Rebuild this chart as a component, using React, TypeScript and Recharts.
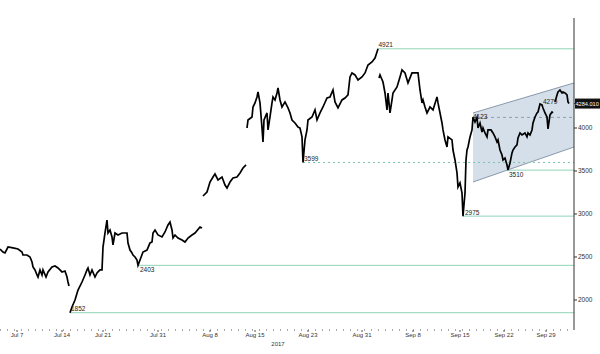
import React from 'react';
import { ComposedChart, Line, Area, XAxis, YAxis, ReferenceLine, ReferenceDot } from 'recharts';

// time index (chart sessions) and BTC price, split where the feed has gaps
const julyA: [number, number][] = [
  [0, 2593], [3, 2558], [5, 2547], [8, 2616], [13, 2605], [18, 2593], [22, 2558], [23, 2523], [27, 2523],
  [30, 2500], [32, 2442], [33, 2384], [35, 2349], [37, 2291], [38, 2267], [40, 2349], [42, 2291], [43, 2349],
  [46, 2267], [48, 2326], [52, 2384], [55, 2395], [58, 2372], [62, 2326], [65, 2337], [67, 2267], [68, 2209], [69, 2163],
];
const julyB: [number, number][] = [
  [70, 1852], [72, 1919], [75, 2000], [78, 2116], [82, 2209], [85, 2291], [87, 2349], [88, 2372], [90, 2291],
  [92, 2349], [95, 2267], [97, 2314], [98, 2326], [100, 2349], [102, 2349], [103, 2616], [105, 2779], [107, 2930],
  [108, 2779], [110, 2814], [112, 2733], [113, 2640], [115, 2779], [118, 2756], [122, 2779], [125, 2779], [127, 2779],
  [128, 2663], [130, 2581], [132, 2547], [133, 2523], [135, 2500], [137, 2465], [138, 2403], [140, 2465], [143, 2558],
  [147, 2581], [150, 2663], [152, 2674], [153, 2779], [155, 2814], [158, 2756], [162, 2733], [165, 2791], [168, 2872],
  [170, 2907], [172, 2814], [173, 2721], [175, 2756], [178, 2721], [182, 2698], [185, 2674], [188, 2721], [192, 2756],
  [195, 2779], [200, 2849], [202, 2837],
];
const augA: [number, number][] = [
  [203, 3209], [207, 3256], [210, 3372], [213, 3430], [215, 3465], [218, 3396], [222, 3430], [225, 3337], [227, 3302],
  [230, 3372], [233, 3419], [237, 3430], [240, 3477], [243, 3535], [246, 3570],
];
const augB: [number, number][] = [
  [247, 4000], [248, 4093], [252, 4128], [253, 4244], [255, 4291], [257, 4361], [258, 4419], [260, 4291], [262, 4000],
  [263, 3837], [264, 4093], [267, 4175], [268, 3977], [270, 4128], [272, 4291], [273, 4361], [275, 4326], [277, 4407],
  [278, 4465], [280, 4326], [282, 4244], [285, 4303], [288, 4233], [290, 4175], [292, 4093], [295, 4058], [298, 4012],
  [300, 4000], [302, 3896], [303, 3599], [305, 3861], [307, 3977], [308, 4093], [312, 4128], [315, 4210], [317, 4093],
  [320, 4175], [323, 4244], [327, 4349], [330, 4361], [333, 4442], [335, 4303], [338, 4233], [342, 4326], [345, 4349],
  [348, 4384], [350, 4593], [352, 4640], [355, 4617], [358, 4558], [362, 4593], [365, 4640], [368, 4733], [372, 4768],
  [375, 4814], [377, 4884], [378, 4921],
];
const sepA: [number, number][] = [
  [379, 4581], [380, 4617], [383, 4535], [385, 4407], [387, 4210], [388, 4407], [390, 4175], [392, 4326], [393, 4407],
  [397, 4477], [400, 4593], [402, 4675], [405, 4640], [408, 4524], [412, 4640], [415, 4640], [418, 4640], [420, 4442],
  [422, 4291], [423, 4326], [425, 4244], [427, 4175], [430, 4244], [433, 4210], [437, 4361], [438, 4291], [442, 4058],
  [443, 3977], [445, 3861], [447, 3779], [448, 3896], [452, 3861], [453, 3744], [455, 3628], [457, 3477], [458, 3314],
  [460, 3361], [462, 3244], [463, 2975], [465, 3244], [466, 3628], [467, 3744], [468, 3779], [470, 3896], [472, 3977],
  [473, 4128], [475, 4070], [477, 4123], [478, 4000], [480, 4058], [482, 3954], [483, 4000], [485, 3942], [487, 3896],
  [488, 3977], [491, 3977], [493, 3942], [495, 3896], [497, 3837], [498, 3861], [500, 3744], [502, 3686], [503, 3628],
  [505, 3651], [507, 3570], [508, 3510], [510, 3593], [512, 3710], [513, 3744], [515, 3779], [517, 3803], [518, 3884],
  [520, 3942], [522, 3919], [525, 3942], [527, 3896], [528, 3942], [530, 3919], [532, 3977], [533, 4058], [535, 4128],
  [537, 4175], [538, 4186], [540, 4279], [542, 4268], [543, 4233], [545, 4175], [547, 4128], [548, 3989], [550, 4152],
  [552, 4186], [553, 4175],
];
const sepB: [number, number][] = [
  [555, 4303], [557, 4384], [558, 4419], [560, 4442], [562, 4407], [563, 4419], [565, 4407], [567, 4384], [568, 4303], [569, 4284],
];

const xTickPos = [17, 62, 103, 158, 210, 255, 308, 362, 413, 460, 504, 546];
const xTickLabels = ['Jul 7', 'Jul 14', 'Jul 21', 'Jul 31', 'Aug 8', 'Aug 15', 'Aug 23', 'Aug 31', 'Sep 8', 'Sep 15', 'Sep 22', 'Sep 29'];
const yTicks = [2000, 2500, 3000, 3500, 4000, 4500, 5000];
const lastPrice = 4284.01;

// support / resistance levels: [start time index, level]
const solidLevels: [number, number][] = [[378, 4921], [463, 2975], [508, 3510], [138, 2403], [70, 1852]];
const dottedLevel: [number, number] = [303, 3599];
const dashedLevel: [number, number] = [473, 4123];
// annotated extremes: [time index, value, label offset x, label offset y]
const annotations: [number, number, number, number][] = [
  [378, 4921, 0.5, -1.5], [303, 3599, 1, -1.5], [138, 2403, 2, 7], [70, 1852, 1, -1.5],
  [463, 2975, 2, -1.5], [473, 4123, 0, 1.5], [540, 4279, 3, 0], [508, 3510, 1, 7],
];
// rising channel: [time index, lower, upper]
const channel: [number, number, number][] = [[473, 3372, 4175], [574, 3779, 4524]];

const data: { t: number; p: number | null }[] = [];
[julyA, julyB, augA, augB, sepA, sepB].forEach((seg, i) => {
  if (i > 0) data.push({ t: seg[0][0] - 0.5, p: null });
  seg.forEach(([t, p]) => data.push({ t, p }));
});
const channelData = channel.map(([t, lo, hi]) => ({ t, band: [lo, hi] }));

const FONT = 'Liberation Sans, Arial, sans-serif';
const X_MAX = 574;

const DotLabel = (props: any) => {
  const { viewBox, text, dx, dy } = props;
  if (!viewBox) return null;
  return (
    <text x={viewBox.x + dx} y={viewBox.y + dy} fontSize={6.5} fontFamily={FONT} fill="#222">
      {text}
    </text>
  );
};

const YTick = (props: any) => {
  const { x, y, payload } = props;
  if (payload.value === lastPrice) {
    return (
      <g>
        <rect x={x - 3} y={y - 5} width={26} height={10} fill="#111" />
        <text x={x - 2.5} y={y + 2.2} fontSize={5.6} fontFamily={FONT} fill="#fff">
          {lastPrice.toFixed(3)}
        </text>
      </g>
    );
  }
  return (
    <text x={x} y={y + 2.3} fontSize={6.5} fontFamily={FONT} fill="#333">
      {payload.value}
    </text>
  );
};

const YearLabel = (props: any) => {
  const { viewBox } = props;
  if (!viewBox) return null;
  return (
    <text x={viewBox.x + 278} y={viewBox.y + 16} fontSize={6} fontFamily={FONT} fill="#333" textAnchor="middle">
      2017
    </text>
  );
};

export default function App() {
  return (
    <div style={{ position: 'absolute', left: 0, top: 0, width: 600, height: 354, background: '#fff' }}>
      <ComposedChart width={600} height={354} data={data} margin={{ top: 18, right: 0, bottom: 0, left: 0 }}>
        <XAxis
          dataKey="t"
          type="number"
          domain={[0, X_MAX]}
          allowDataOverflow
          ticks={xTickPos}
          tickFormatter={(v: number) => xTickLabels[xTickPos.indexOf(v)] ?? ''}
          tick={{ fontSize: 6, fontFamily: FONT, fill: '#333' }}
          tickSize={2}
          tickMargin={1}
          height={24}
          axisLine={{ stroke: '#555', strokeDasharray: '1 6' }}
          tickLine={{ stroke: '#555' }}
          label={<YearLabel />}
        />
        <YAxis
          orientation="right"
          type="number"
          domain={[1651, 5279]}
          allowDataOverflow
          ticks={[...yTicks, lastPrice]}
          tick={<YTick />}
          tickSize={3}
          tickMargin={1}
          width={26}
          axisLine={{ stroke: '#333' }}
          tickLine={{ stroke: '#333' }}
        />
        <Area
          data={channelData}
          dataKey="band"
          type="linear"
          fill="#d5dfe9"
          fillOpacity={1}
          stroke="#6f8399"
          strokeWidth={0.8}
          isAnimationActive={false}
          dot={false}
          activeDot={false}
        />
        {solidLevels.map(([t, v]) => (
          <ReferenceLine
            key={'s' + v}
            segment={[{ x: t, y: v }, { x: X_MAX, y: v }]}
            stroke="#90d4b6"
            strokeWidth={1}
            ifOverflow="visible"
          />
        ))}
        <ReferenceLine
          segment={[{ x: dottedLevel[0], y: dottedLevel[1] }, { x: X_MAX, y: dottedLevel[1] }]}
          stroke="#7cc4ad"
          strokeWidth={1}
          strokeDasharray="2 3"
          ifOverflow="visible"
        />
        <ReferenceLine
          segment={[{ x: dashedLevel[0], y: dashedLevel[1] }, { x: X_MAX, y: dashedLevel[1] }]}
          stroke="#7d8f9c"
          strokeWidth={0.8}
          strokeDasharray="3 3"
          ifOverflow="visible"
        />
        <Line
          dataKey="p"
          type="linear"
          stroke="#000"
          strokeWidth={1.7}
          dot={false}
          activeDot={false}
          connectNulls={false}
          isAnimationActive={false}
        />
        {annotations.map(([t, v, dx, dy]) => (
          <ReferenceDot
            key={'a' + v}
            x={t}
            y={v}
            r={0}
            fill="none"
            stroke="none"
            ifOverflow="visible"
            label={<DotLabel text={String(v)} dx={dx} dy={dy} />}
          />
        ))}
      </ComposedChart>
    </div>
  );
}
